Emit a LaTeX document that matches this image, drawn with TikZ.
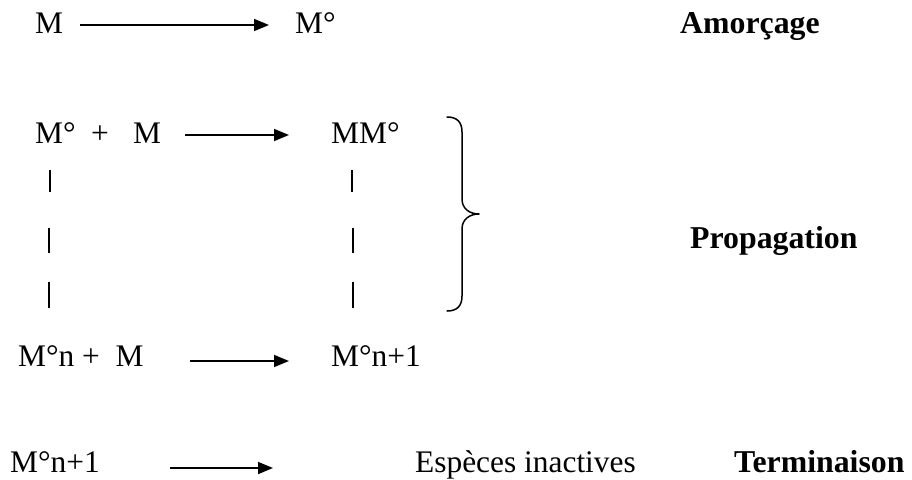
\documentclass[tikz,border=0pt]{standalone}
\usepackage{fontspec}
\setmainfont{Liberation Serif}
\usetikzlibrary{arrows.meta}
\tikzset{
  txt/.style={anchor=base west, inner sep=0pt, font=\fontsize{31.4}{36}\selectfont},
  btxt/.style={txt, font=\fontsize{31.8}{36}\selectfont\bfseries},
  rxn/.style={line width=1.6pt, -{Triangle[length=15pt,width=12pt]}},
  tick/.style={line width=1.5pt},
  brace/.style={line width=1.5pt, line cap=round, line join=round}
}
\begin{document}
\begin{tikzpicture}[x=1pt, y=-1pt]
\useasboundingbox (0,0) rectangle (912,479);

% Amorçage
\node[txt] (r1a) at (35,33) {M};
\node[txt] (r1b) at (295,33) {M°};
\node[btxt] (lab1) at (680,33) {Amorçage};
\coordinate (a1s) at (80,25);
\coordinate (a1e) at (269,25);
\draw[rxn] (a1s) -- (a1e);

% Propagation: first step
\node[txt] (r2a) at (35,143) {M°};
\node[txt] (r2p) at (91,143) {+};
\node[txt] (r2b) at (133,143) {M};
\node[txt] (r2c) at (331,143) {MM°};
\coordinate (a2s) at (185,135);
\coordinate (a2e) at (289,135);
\draw[rxn] (a2s) -- (a2e);

% dashed continuation marks
\coordinate (l1t) at (50,170); \coordinate (l1b) at (50,192);
\coordinate (l2t) at (49,228); \coordinate (l2b) at (49,253);
\coordinate (l3t) at (49,282); \coordinate (l3b) at (49,308);
\coordinate (k1t) at (352,170); \coordinate (k1b) at (352,192);
\coordinate (k2t) at (353,228); \coordinate (k2b) at (353,253);
\coordinate (k3t) at (353,282); \coordinate (k3b) at (353,308);
\draw[tick] (l1t) -- (l1b);
\draw[tick] (l2t) -- (l2b);
\draw[tick] (l3t) -- (l3b);
\draw[tick] (k1t) -- (k1b);
\draw[tick] (k2t) -- (k2b);
\draw[tick] (k3t) -- (k3b);

% brace grouping the propagation steps
\coordinate (bt) at (447,117);
\coordinate (btip) at (479,214);
\coordinate (bb) at (447,311);
\draw[brace] (bt) .. controls (457,117) and (462,122) .. (462,132)
  -- (462,199) .. controls (462,209) and (470,214) .. (btip)
  .. controls (470,214) and (462,219) .. (462,229)
  -- (462,296) .. controls (462,306) and (457,311) .. (bb);
\node[btxt] (lab2) at (690,248) {Propagation};

% Propagation: general step
\node[txt] (r3a) at (18,366) {M°n + \ M};
\node[txt] (r3b) at (331,366) {M°n+1};
\coordinate (a3s) at (190,361);
\coordinate (a3e) at (289,361);
\draw[rxn] (a3s) -- (a3e);

% Terminaison
\node[txt] (r4a) at (10,472) {M°n+1};
\node[txt] (r4b) at (415,472) {Espèces inactives};
\node[btxt] (lab3) at (734,472) {Terminaison};
\coordinate (a4s) at (170,468);
\coordinate (a4e) at (273,468);
\draw[rxn] (a4s) -- (a4e);
\end{tikzpicture}
\end{document}
